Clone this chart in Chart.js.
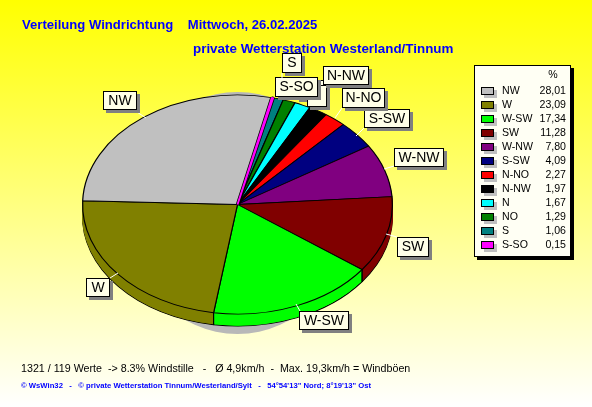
<!DOCTYPE html>
<html><head><meta charset="utf-8">
<style>html,body{margin:0;padding:0;background:#ffffee}canvas{display:block}</style>
<script src="https://cdn.jsdelivr.net/npm/chart.js@4/dist/chart.umd.min.js"></script>
</head><body><div style="width:592px;height:407px"><canvas id="c" width="592" height="407"></canvas></div>
<script>
const categories = ['NW','W','W-SW','SW','W-NW','S-SW','N-NO','N-NW','N','NO','S','S-SO'];
const values = [28.01,23.09,17.34,11.28,7.80,4.09,2.27,1.97,1.67,1.29,1.06,0.15];
const valueLabels = ['28,01','23,09','17,34','11,28','7,80','4,09','2,27','1,97','1,67','1,29','1,06','0,15'];
const colors = ['#c0c0c0','#808000','#00ff00','#800000','#800080','#000080','#ff0000','#000000','#00ffff','#008000','#008080','#ff00ff'];
const titleLine1 = 'Verteilung Windrichtung    Mittwoch, 26.02.2025';
const titleLine2 = 'private Wetterstation Westerland/Tinnum';
const footer1 = '1321 / 119 Werte  -> 8.3% Windstille   -   Ø 4,9km/h  -  Max. 19,3km/h = Windböen';
const footer2 = '© WsWin32   -   © private Wetterstation Tinnum/Westerland/Sylt   -   54°54\'13" Nord; 8°19\'13" Ost';
const callouts = [
 ['NO',296,80,28,19,null],
 ['N',307,85,20,22,null],
 ['NW',103,91,34,19,[137,112,146,118]],
 ['W',86,278,24,19,[110,278,118,273]],
 ['W-SW',299,311,50,19,[300,311,296,304]],
 ['SW',397,237,32,20,[397,237,386,234]],
 ['W-NW',394,148,50,19,[394,166,384,169]],
 ['S-SW',364,109,46,19,[364,128,356,136]],
 ['N-NO',342,88,43,20,[342,108,335,118]],
 ['N-NW',323,66,46,19,null],
 ['S-SO',275,77,43,20,null],
 ['S',282,53,20,20,[282,73,282,80]]
];
const FACE = 0.7074, DEPTH = 12;

function faceTransform(ctx, el, d){
  ctx.translate(el.x, el.y + d);
  ctx.scale(1, FACE);
  ctx.translate(-el.x, -el.y);
}
function drawArc(ctx, el, border, width){
  const o = el.options;
  el.options = {backgroundColor:o.backgroundColor, borderColor:border, borderWidth:width,
    borderAlign:'center', borderJoinStyle:'bevel', borderRadius:0, offset:0, spacing:0, circular:true,
    borderDash:[], borderDashOffset:0, selfJoin:false};
  el.draw(ctx);
  el.options = o;
}
function drawLayer(ctx, arcs, d, withBorder){
  ctx.save();
  faceTransform(ctx, arcs[0], d);
  arcs.forEach(el=>drawArc(ctx, el, withBorder?'#000':el.options.backgroundColor, withBorder?1.2:1));
  ctx.restore();
}
const pie3d = {
  id:'pie3d',
  beforeDraw(chart){
    const {ctx,width,height} = chart;
    const g = ctx.createLinearGradient(0,0,0,height);
    g.addColorStop(0,'#ffff00'); g.addColorStop(1,'#ffffff');
    ctx.fillStyle = g; ctx.fillRect(0,0,width,height);
  },
  beforeDatasetsDraw(chart){
    const ctx = chart.ctx, arcs = chart.getDatasetMeta(0).data, a0 = arcs[0];
    const p = a0.getProps(['x','y','outerRadius'], true);
    ctx.save();
    ctx.fillStyle = '#b8b8b8';
    ctx.beginPath();
    ctx.ellipse(p.x, p.y + 8.5, p.outerRadius*0.72, p.outerRadius*FACE + 11.5, 0, 0, Math.PI*2);
    ctx.closePath();
    ctx.fill();
    ctx.restore();
    drawLayer(ctx, arcs, DEPTH, true);
    for(let d=DEPTH-1; d>=1; d--) drawLayer(ctx, arcs, d, false);
    ctx.save();
    ctx.strokeStyle = '#000'; ctx.lineWidth = 1;
    arcs.forEach(el=>{
      [el.startAngle, el.endAngle].forEach(t=>{
        if(Math.sin(t) > 0){
          const x = el.x + el.outerRadius*Math.cos(t), y = el.y + el.outerRadius*FACE*Math.sin(t);
          ctx.beginPath(); ctx.moveTo(x,y); ctx.lineTo(x,y+DEPTH); ctx.stroke();
        }
      });
    });
    ctx.restore();
    ctx.save();
    faceTransform(ctx, a0, 0);
  },
  afterDatasetsDraw(chart){
    const ctx = chart.ctx;
    const thin = chart.getDatasetMeta(0).data[0];
    drawArc(ctx, thin, '#000', 3.4);
    drawArc(ctx, thin, thin.options.backgroundColor, 1.8);
    ctx.restore();
    callouts.forEach(([t,x,y,w,h,l])=>{
      if(l){ ctx.strokeStyle='#fff'; ctx.lineWidth=1; ctx.beginPath(); ctx.moveTo(l[0],l[1]); ctx.lineTo(l[2],l[3]); ctx.stroke(); }
      ctx.fillStyle='#808080'; ctx.fillRect(x+3,y+3,w,h);
      ctx.fillStyle='#ffffe8'; ctx.fillRect(x,y,w,h);
      ctx.strokeStyle='#000'; ctx.lineWidth=1; ctx.strokeRect(x+.5,y+.5,w-1,h-1);
      ctx.fillStyle='#000'; ctx.font='14px "Liberation Sans"'; ctx.textAlign='center'; ctx.textBaseline='middle';
      ctx.fillText(t,x+w/2,y+h/2+.5);
    });
    ctx.fillStyle='#000'; ctx.fillRect(477,68,97,192);
    ctx.fillStyle='#fffff4'; ctx.fillRect(474,65,97,192);
    ctx.strokeStyle='#000'; ctx.strokeRect(474.5,65.5,96,191);
    ctx.font='10.6px "Liberation Sans"'; ctx.textBaseline='middle';
    ctx.fillStyle='#000'; ctx.textAlign='center'; ctx.fillText('%',553,75);
    categories.forEach((c,i)=>{
      const y = 91 + i*14;
      ctx.fillStyle='#c0c0c0'; ctx.fillRect(484,y-1,13,8);
      ctx.fillStyle=colors[i]; ctx.fillRect(481,y-4,13,8);
      ctx.strokeStyle='#000'; ctx.strokeRect(481.5,y-3.5,12,7);
      ctx.fillStyle='#000'; ctx.textAlign='left'; ctx.fillText(c,502,y+.5);
      ctx.textAlign='right'; ctx.fillText(valueLabels[i],566,y+.5);
    });
    ctx.fillStyle='#0000ff'; ctx.textAlign='left'; ctx.textBaseline='middle';
    ctx.font='bold 13.1px "Liberation Sans"';
    ctx.fillText(titleLine1,22,25);
    ctx.font='bold 13.4px "Liberation Sans"';
    ctx.fillText(titleLine2,193,49);
    ctx.fillStyle='#000'; ctx.font='10.7px "Liberation Sans"';
    ctx.fillText(footer1,21,369);
    ctx.fillStyle='#0000ff'; ctx.font='bold 7.7px "Liberation Sans"';
    ctx.fillText(footer2,21,386);
  }
};
new Chart(document.getElementById('c'),{
  type:'pie',
  data:{labels:categories.slice().reverse(),datasets:[{data:values.slice().reverse(),backgroundColor:colors.slice().reverse(),borderColor:'#000',borderWidth:1.2,borderJoinStyle:'bevel'}]},
  options:{responsive:false,animation:false,rotation:12.8,
    layout:{padding:{left:82,right:199,top:49,bottom:47}},
    plugins:{legend:{display:false},tooltip:{enabled:false},title:{display:false}}},
  plugins:[pie3d]
});
</script></body></html>
